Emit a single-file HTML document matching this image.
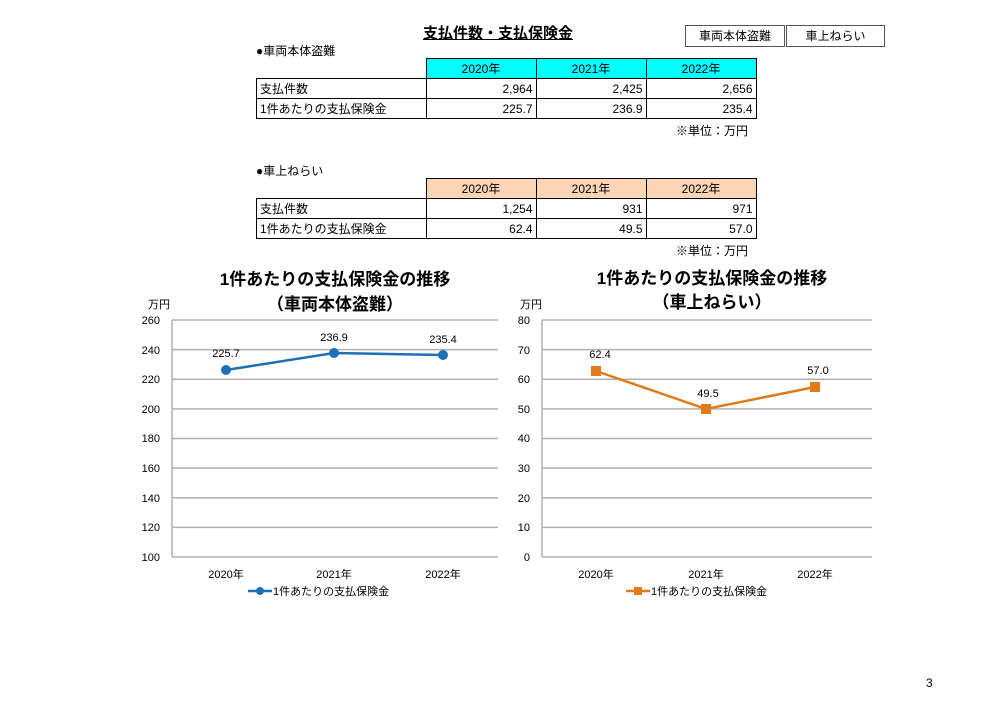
<!DOCTYPE html>
<html><head><meta charset="utf-8"><style>
body{margin:0;width:1000px;height:708px;background:#fff;position:relative;font-family:"Liberation Sans","Noto Sans CJK JP",sans-serif;color:#000;overflow:hidden}
.a{position:absolute;white-space:nowrap}
table{position:absolute;border-collapse:collapse;font-size:12px}
td{border:1px solid #000;height:19px;padding:0 3px;text-align:right}
td.l{text-align:left}
td.h{text-align:center}
</style></head><body>
<div class="a" style="left:423px;top:22px;font-size:15px;font-weight:bold;text-decoration:underline">支払件数・支払保険金</div>
<div class="a" style="left:685px;top:25px;width:98px;height:20px;border:1px solid #555;font-size:12px;text-align:center;line-height:20px">車両本体盗難</div>
<div class="a" style="left:786px;top:25px;width:97px;height:20px;border:1px solid #555;font-size:12px;text-align:center;line-height:20px">車上ねらい</div>
<div class="a" style="left:256px;top:42px;font-size:12px">●車両本体盗難</div>
<table style="left:256px;top:58px">
<tr><td style="border:none;width:163px"></td><td class="h" style="background:#00ffff;width:103px">2020年</td><td class="h" style="background:#00ffff;width:103px">2021年</td><td class="h" style="background:#00ffff;width:103px">2022年</td></tr>
<tr><td class="l">支払件数</td><td>2,964</td><td>2,425</td><td>2,656</td></tr>
<tr><td class="l">1件あたりの支払保険金</td><td>225.7</td><td>236.9</td><td>235.4</td></tr>
</table>
<div class="a" style="left:676px;top:122px;font-size:12px">※単位：万円</div>
<div class="a" style="left:256px;top:162px;font-size:12px">●車上ねらい</div>
<table style="left:256px;top:178px">
<tr><td style="border:none;width:163px"></td><td class="h" style="background:#fcd5b4;width:103px">2020年</td><td class="h" style="background:#fcd5b4;width:103px">2021年</td><td class="h" style="background:#fcd5b4;width:103px">2022年</td></tr>
<tr><td class="l">支払件数</td><td>1,254</td><td>931</td><td>971</td></tr>
<tr><td class="l">1件あたりの支払保険金</td><td>62.4</td><td>49.5</td><td>57.0</td></tr>
</table>
<div class="a" style="left:676px;top:242px;font-size:12px">※単位：万円</div>
<svg class="a" style="left:0;top:0" width="1000" height="708" font-family="Liberation Sans, Noto Sans CJK JP, sans-serif">
<g font-size="17" font-weight="bold" text-anchor="middle">
<text x="335" y="285">1件あたりの支払保険金の推移</text>
<text x="335" y="310">（車両本体盗難）</text>
<text x="712" y="284">1件あたりの支払保険金の推移</text>
<text x="712" y="308">（車上ねらい）</text>
</g>
<g font-size="11">
<text x="148" y="308">万円</text><text x="520" y="308">万円</text>
</g>
<g stroke="#b0b0b0" stroke-width="1.5">
<line x1="172" x2="498" y1="320" y2="320"/><line x1="172" x2="498" y1="349.6" y2="349.6"/><line x1="172" x2="498" y1="379.2" y2="379.2"/><line x1="172" x2="498" y1="408.9" y2="408.9"/><line x1="172" x2="498" y1="438.5" y2="438.5"/><line x1="172" x2="498" y1="468.1" y2="468.1"/><line x1="172" x2="498" y1="497.7" y2="497.7"/><line x1="172" x2="498" y1="527.4" y2="527.4"/><line x1="172" x2="498" y1="557" y2="557"/>
<line x1="172" x2="172" y1="320" y2="557"/>
<line x1="542" x2="872" y1="320" y2="320"/><line x1="542" x2="872" y1="349.6" y2="349.6"/><line x1="542" x2="872" y1="379.2" y2="379.2"/><line x1="542" x2="872" y1="408.9" y2="408.9"/><line x1="542" x2="872" y1="438.5" y2="438.5"/><line x1="542" x2="872" y1="468.1" y2="468.1"/><line x1="542" x2="872" y1="497.7" y2="497.7"/><line x1="542" x2="872" y1="527.4" y2="527.4"/><line x1="542" x2="872" y1="557" y2="557"/>
<line x1="542" x2="542" y1="320" y2="557"/>
</g>
<g font-size="11" text-anchor="end">
<text x="160" y="324">260</text><text x="160" y="354">240</text><text x="160" y="383">220</text><text x="160" y="413">200</text><text x="160" y="442">180</text><text x="160" y="472">160</text><text x="160" y="502">140</text><text x="160" y="531">120</text><text x="160" y="561">100</text>
<text x="530" y="324">80</text><text x="530" y="354">70</text><text x="530" y="383">60</text><text x="530" y="413">50</text><text x="530" y="442">40</text><text x="530" y="472">30</text><text x="530" y="502">20</text><text x="530" y="531">10</text><text x="530" y="561">0</text>
</g>
<g font-size="11" text-anchor="middle">
<text x="226" y="578">2020年</text><text x="334" y="578">2021年</text><text x="443" y="578">2022年</text>
<text x="596" y="578">2020年</text><text x="706" y="578">2021年</text><text x="815" y="578">2022年</text>
<text x="226" y="357">225.7</text><text x="334" y="341">236.9</text><text x="443" y="343">235.4</text>
<text x="600" y="358">62.4</text><text x="708" y="397">49.5</text><text x="818" y="374">57.0</text>
</g>
<polyline points="226,370 334,353 443,355" fill="none" stroke="#1f6fb4" stroke-width="2.5"/>
<circle cx="226" cy="370" r="5" fill="#1f6fb4"/><circle cx="334" cy="353" r="5" fill="#1f6fb4"/><circle cx="443" cy="355" r="5" fill="#1f6fb4"/>
<polyline points="596,371 706,409 815,387" fill="none" stroke="#e07b1a" stroke-width="2.5"/>
<rect x="591" y="366" width="10" height="10" fill="#e07b1a"/><rect x="701" y="404" width="10" height="10" fill="#e07b1a"/><rect x="810" y="382" width="10" height="10" fill="#e07b1a"/>
<line x1="248" x2="272" y1="591" y2="591" stroke="#1f6fb4" stroke-width="2.5"/><circle cx="260" cy="591" r="4" fill="#1f6fb4"/>
<text x="273" y="595" font-size="11">1件あたりの支払保険金</text>
<line x1="626" x2="650" y1="591" y2="591" stroke="#e07b1a" stroke-width="2.5"/><rect x="634" y="587" width="8" height="8" fill="#e07b1a"/>
<text x="651" y="595" font-size="11">1件あたりの支払保険金</text>
<text x="926" y="687" font-size="12">3</text>
</svg>
</body></html>
